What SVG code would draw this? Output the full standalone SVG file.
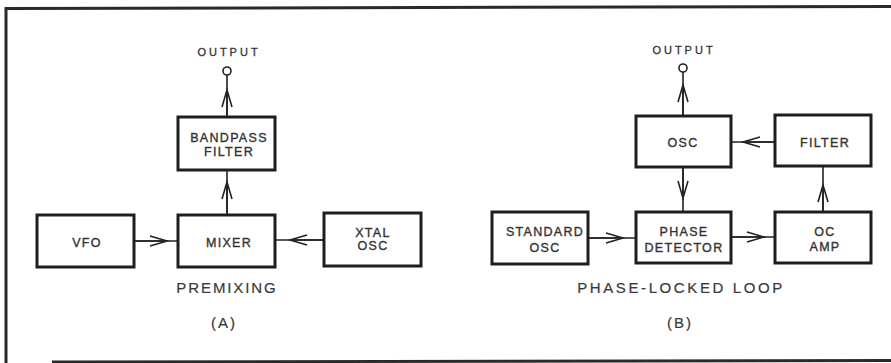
<svg xmlns="http://www.w3.org/2000/svg" width="891" height="363" viewBox="0 0 891 363">
<defs>
<marker id="chev" viewBox="0 0 20 12" refX="18" refY="6" markerWidth="20" markerHeight="12" markerUnits="userSpaceOnUse" orient="auto">
<path d="M1,1 L18,6 L1,11" fill="none" stroke="#222" stroke-width="1.6"/>
</marker>
</defs>
<style>
.box{fill:#fff;stroke:#1e1e1e;stroke-width:3}
.t{font-family:"Liberation Sans",Arial,sans-serif;font-size:12.5px;fill:#333;stroke:#333;stroke-width:0.35;text-anchor:middle;letter-spacing:1.3px}
.sm{font-family:"Liberation Sans",Arial,sans-serif;font-size:11px;fill:#333;stroke:#333;stroke-width:0.3;text-anchor:middle;letter-spacing:3px}
.cap{font-family:"Liberation Sans",Arial,sans-serif;font-size:15px;fill:#3a3a3a;stroke:#3a3a3a;stroke-width:0.2;text-anchor:middle}
.ln{fill:none;stroke:#222;stroke-width:1.6}
.frame{fill:none;stroke:#2a2a2a;stroke-width:3}
.port{fill:#fff;stroke:#222;stroke-width:1.6}
</style>
<rect width="891" height="363" fill="#fff"/>
<g id="frame">
<path class="frame" d="M891,6.5 L6,8.5 L6,363"/>
<path class="frame" d="M52,362 L891,360.5"/>
</g>
<g id="connectors">
<line class="ln" x1="134" y1="241" x2="178" y2="241"/>
<line class="ln" x1="134" y1="241" x2="167" y2="241" marker-end="url(#chev)"/>
<line class="ln" x1="324" y1="240" x2="275" y2="240"/>
<line class="ln" x1="324" y1="240" x2="290" y2="240" marker-end="url(#chev)"/>
<line class="ln" x1="227" y1="215" x2="227" y2="170"/>
<line class="ln" x1="227" y1="215" x2="227" y2="182" marker-end="url(#chev)"/>
<line class="ln" x1="227" y1="117" x2="227" y2="75"/>
<line class="ln" x1="227" y1="117" x2="227" y2="90" marker-end="url(#chev)"/>
<line class="ln" x1="683" y1="116" x2="683" y2="72"/>
<line class="ln" x1="683" y1="116" x2="683" y2="85" marker-end="url(#chev)"/>
<line class="ln" x1="775" y1="142" x2="731" y2="142"/>
<line class="ln" x1="775" y1="142" x2="743" y2="142" marker-end="url(#chev)"/>
<line class="ln" x1="683" y1="167" x2="683" y2="212"/>
<line class="ln" x1="683" y1="167" x2="683" y2="198" marker-end="url(#chev)"/>
<line class="ln" x1="588" y1="238" x2="636" y2="238"/>
<line class="ln" x1="588" y1="238" x2="623" y2="238" marker-end="url(#chev)"/>
<line class="ln" x1="731" y1="237" x2="775" y2="237"/>
<line class="ln" x1="731" y1="237" x2="764" y2="237" marker-end="url(#chev)"/>
<line class="ln" x1="823" y1="212" x2="823" y2="166"/>
<line class="ln" x1="823" y1="212" x2="823" y2="185" marker-end="url(#chev)"/>
</g>
<g id="out-a">
<circle class="port" cx="227" cy="71" r="4"/>
<text class="sm" x="229" y="56">OUTPUT</text>
</g>
<g id="vfo">
<rect class="box" x="37" y="215" width="97" height="52"/>
<text class="t" x="87" y="247">VFO</text>
</g>
<g id="mixer">
<rect class="box" x="178" y="215" width="97" height="52"/>
<text class="t" x="229" y="247">MIXER</text>
</g>
<g id="xtal">
<rect class="box" x="324" y="213" width="97" height="53"/>
<text class="t" x="373" y="237">XTAL</text>
<text class="t" x="373" y="250">OSC</text>
</g>
<g id="bandpass">
<rect class="box" x="178" y="117" width="97" height="53"/>
<text class="t" x="229" y="142">BANDPASS</text>
<text class="t" x="229" y="156">FILTER</text>
</g>
<text class="cap" x="227" y="293" letter-spacing="1.9">PREMIXING</text>
<text class="cap" x="224" y="328" letter-spacing="2">(A)</text>
<g id="out-b">
<circle class="port" cx="683" cy="68" r="4"/>
<text class="sm" x="684" y="54">OUTPUT</text>
</g>
<g id="osc">
<rect class="box" x="636" y="116" width="95" height="51"/>
<text class="t" x="683" y="147">OSC</text>
</g>
<g id="filter">
<rect class="box" x="775" y="115" width="96" height="51"/>
<text class="t" x="825" y="147">FILTER</text>
</g>
<g id="stdosc">
<rect class="box" x="492" y="212" width="96" height="52"/>
<text class="t" x="545" y="236">STANDARD</text>
<text class="t" x="545" y="252">OSC</text>
</g>
<g id="phasedet">
<rect class="box" x="636" y="212" width="95" height="51"/>
<text class="t" x="684" y="236">PHASE</text>
<text class="t" x="684" y="252">DETECTOR</text>
</g>
<g id="ocamp">
<rect class="box" x="775" y="212" width="96" height="51"/>
<text class="t" x="825" y="236">OC</text>
<text class="t" x="825" y="251">AMP</text>
</g>
<text class="cap" x="681" y="293" letter-spacing="2.6">PHASE-LOCKED LOOP</text>
<text class="cap" x="680" y="328" letter-spacing="2">(B)</text>
</svg>
